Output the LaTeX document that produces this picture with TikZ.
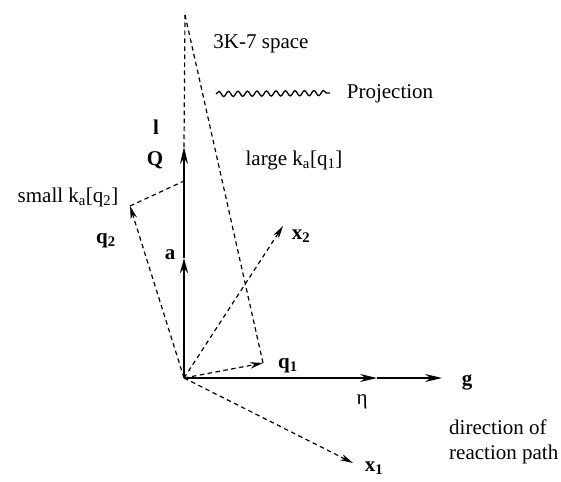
\documentclass[tikz,border=0pt]{standalone}
\usepackage{fontspec}
\setmainfont{Liberation Serif}
\usetikzlibrary{arrows.meta,decorations.pathmorphing}
\begin{document}
\begin{tikzpicture}[x=1pt,y=-1pt,
  lbl/.style={font=\fontsize{21}{25}\selectfont, inner sep=0pt},
  vec/.style={font=\fontsize{21}{25}\selectfont\bfseries, inner sep=0pt},
  dsh/.style={dash pattern=on 4.5pt off 3.5pt, line width=1.2pt},
  bigtip/.style={-{Stealth[length=17pt,width=8pt]}},
  smalltip/.style={-{Stealth[length=13pt,width=6.5pt]}}]
\useasboundingbox (0,0) rectangle (561,481);
% points
\coordinate (O) at (184,378);
\coordinate (A) at (184,258);
\coordinate (Qt) at (184,147);
\coordinate (T) at (185,15);
\coordinate (Q2) at (130,206);
\coordinate (M) at (184,181);
\coordinate (Q1) at (263,363);
\coordinate (X2) at (283,226);
\coordinate (X1) at (353,463);
\coordinate (G1) at (377,378);
\coordinate (G) at (442,378);
\coordinate (W1) at (216,94);
\coordinate (W2) at (330,93);
% solid axes
\draw[line width=1.4pt, bigtip] (A) -- (Qt);
\draw[line width=2.8pt, -{Stealth[length=15pt,width=8pt]}] (O) -- (A);
\draw[line width=1.4pt, bigtip] (O) -- (G1);
\draw[line width=1.4pt, bigtip] (G1) -- (G);
% dashed
\draw[dsh] (Qt) -- (T);
\draw[dsh] (T) -- (Q1);
\draw[dsh, smalltip] (O) -- (Q1);
\draw[dsh, smalltip] (O) -- (X2);
\draw[dsh, smalltip] (O) -- (X1);
\draw[dsh, smalltip] (O) -- (Q2);
\draw[dsh] (Q2) -- (M);
% wavy
\draw[line width=1.3pt, decorate, decoration={snake, amplitude=2.6pt, segment length=9.5pt}] (W1) -- (W2);
% labels
\node[vec] (ll) at (156,127) {l};
\node[vec] (lQ) at (155,160) {Q};
\node[vec] (la) at (170,255) {a};
\node[vec] (lq2) at (106,241) {q\textsubscript{2}};
\node[vec] (lx2) at (301,236) {x\textsubscript{2}};
\node[vec] (lq1) at (288,366) {q\textsubscript{1}};
\node[vec] (lg) at (467,382) {g};
\node[lbl] (leta) at (362,402) {η};
\node[vec] (lx1) at (374,468) {x\textsubscript{1}};
\node[lbl] (lspace) at (261,44) {3K-7 space};
\node[lbl] (lproj) at (390,94) {Projection};
\node[lbl] (llarge) at (294,160) {large k\textsubscript{a}[q\textsubscript{1}]};
\node[lbl] (lsmall) at (68,197) {small k\textsubscript{a}[q\textsubscript{2}]};
\node[lbl, anchor=west, align=left] (ldir) at (449,442) {direction of\\reaction path};
\end{tikzpicture}
\end{document}
